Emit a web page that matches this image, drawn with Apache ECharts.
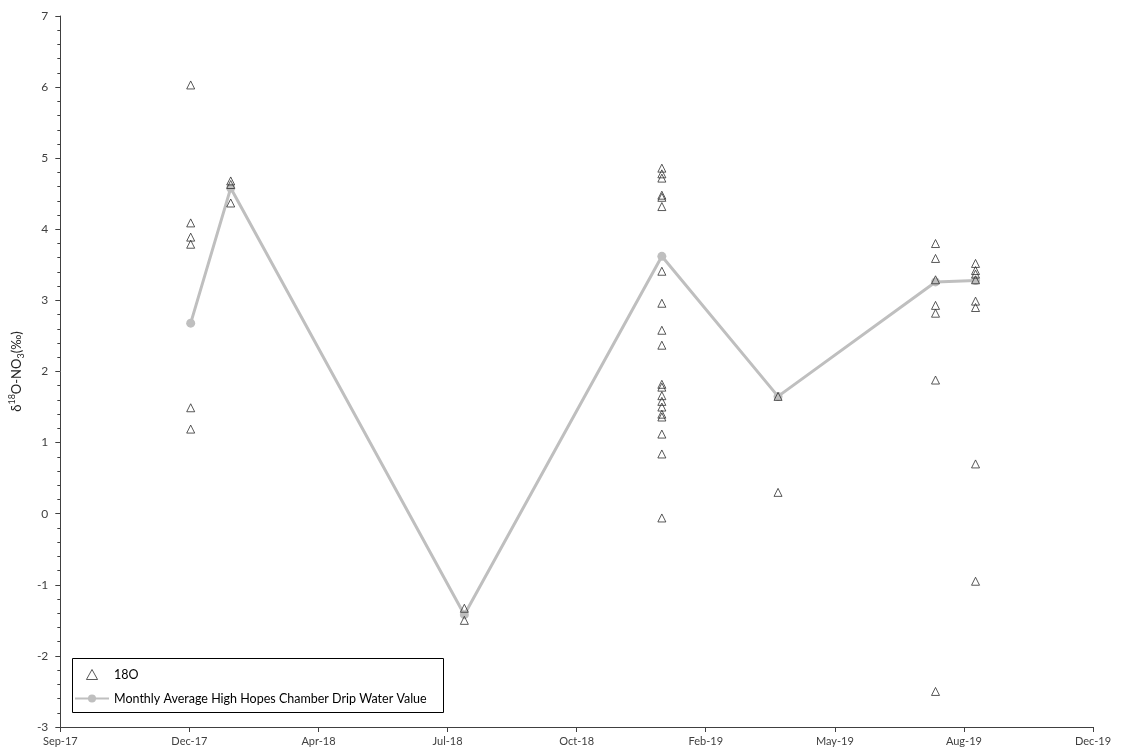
<!DOCTYPE html>
<html>
<head>
<meta charset="utf-8">
<script src="https://cdn.jsdelivr.net/npm/echarts@6/dist/echarts.min.js"></script>
<style>
  html, body { margin: 0; padding: 0; background: #fff; }
  #chart { width: 1123px; height: 755px; }
</style>
</head>
<body>
<div id="chart"></div>
<script>
// Sampling months (first of month) and individual δ18O-NO3 measurements (‰)
const sampleDates = ['2018-01-01', '2018-02-01', '2018-08-01', '2019-01-01', '2019-04-01', '2019-08-01', '2019-09-01'];
const samplesJan18 = [6.03, 4.09, 3.89, 3.79, 1.49, 1.19];
const samplesFeb18 = [4.68, 4.63, 4.37];
const samplesAug18 = [-1.33, -1.50];
const samplesJan19 = [4.86, 4.78, 4.72, 4.48, 4.45, 4.32, 3.41, 2.96, 2.58, 2.37,
                      1.82, 1.78, 1.66, 1.58, 1.50, 1.40, 1.36, 1.12, 0.84, -0.06];
const samplesApr19 = [1.65, 0.30];
const samplesAug19 = [3.80, 3.59, 3.29, 2.93, 2.82, 1.88, -2.50];
const samplesSep19 = [3.52, 3.42, 3.37, 3.29, 2.99, 2.90, 0.70, -0.95];
const sampleGroups = [samplesJan18, samplesFeb18, samplesAug18, samplesJan19, samplesApr19, samplesAug19, samplesSep19];

// Monthly average drip water value per sampling month
const monthlyAverage = [2.68, 4.58, -1.42, 3.62, 1.65, 3.26, 3.28];

// Date axis (spreadsheet day serials): start, end, tick step
const xStart = 43000, xEnd = 43800, xStep = 100;
const monthNames = ['Jan','Feb','Mar','Apr','May','Jun','Jul','Aug','Sep','Oct','Nov','Dec'];

const EPOCH = Date.UTC(1899, 11, 30);
function toSerial(iso) {
  const [y, m, d] = iso.split('-').map(Number);
  return Math.round((Date.UTC(y, m - 1, d) - EPOCH) / 86400000);
}
function serialLabel(v) {
  const dt = new Date(EPOCH + v * 86400000);
  return monthNames[dt.getUTCMonth()] + '-' + String(dt.getUTCFullYear() % 100).padStart(2, '0');
}

const scatterData = [];
sampleGroups.forEach((grp, i) => {
  const x = toSerial(sampleDates[i]);
  grp.forEach(v => scatterData.push([x, v]));
});
const avgData = monthlyAverage.map((v, i) => [toSerial(sampleDates[i]), v]);

const FONT = 'Lato, "Open Sans", sans-serif';
const AXIS_COLOR = '#404040';
const TRIANGLE = 'path://M5,0 L10,9 L0,9 Z';

const chart = echarts.init(document.getElementById('chart'), null, { renderer: 'canvas' });
chart.setOption({
  animation: false,
  backgroundColor: '#ffffff',
  grid: { left: 58, right: 30, top: 16, bottom: 28, containLabel: false },
  xAxis: {
    type: 'value',
    min: xStart, max: xEnd, interval: xStep,
    axisLine: { onZero: false, lineStyle: { color: AXIS_COLOR, width: 1 } },
    axisTick: { show: true, length: 5, lineStyle: { color: AXIS_COLOR } },
    axisLabel: { formatter: serialLabel, color: AXIS_COLOR, fontFamily: FONT, fontSize: 11, margin: 9 },
    splitLine: { show: false }
  },
  yAxis: {
    type: 'value',
    min: -3, max: 7, interval: 1,
    axisLine: { show: true, onZero: false, lineStyle: { color: AXIS_COLOR, width: 1 } },
    axisTick: { show: true, length: 5, lineStyle: { color: AXIS_COLOR } },
    minorTick: { show: true, splitNumber: 5, length: 3, lineStyle: { color: AXIS_COLOR } },
    axisLabel: { color: AXIS_COLOR, fontFamily: FONT, fontSize: 12, margin: 12 },
    splitLine: { show: false },
    name: '{t|δ}{sup|18}{t|O-NO}{sub|3}{t|(‰)}',
    nameLocation: 'middle',
    nameGap: 30,
    nameRotate: 90,
    nameTextStyle: {
      rich: {
        t: { fontFamily: FONT, fontSize: 13, color: '#262626', lineHeight: 18, verticalAlign: 'middle' },
        sup: { fontFamily: FONT, fontSize: 9, color: '#262626', lineHeight: 18, verticalAlign: 'top' },
        sub: { fontFamily: FONT, fontSize: 9, color: '#262626', lineHeight: 18, verticalAlign: 'bottom' }
      }
    }
  },
  graphic: [{
    type: 'rect',
    left: 72, top: 658,
    shape: { width: 371, height: 54 },
    style: { fill: '#ffffff', stroke: '#000000', lineWidth: 1 },
    z: 90
  }],
  legend: {
    orient: 'vertical',
    left: 74, top: 668,
    padding: 0,
    itemGap: 11,
    itemWidth: 34, itemHeight: 10,
    z: 100,
    textStyle: { fontFamily: FONT, fontSize: 12.5, color: '#000000' },
    data: [
      { name: '18O', icon: TRIANGLE,
        itemStyle: { color: 'rgba(255,255,255,0)', borderColor: '#303030', borderWidth: 1 } },
      { name: 'Monthly Average High Hopes Chamber Drip Water Value' }
    ]
  },
  series: [
    {
      name: 'Monthly Average High Hopes Chamber Drip Water Value',
      type: 'line',
      data: avgData,
      symbol: 'circle',
      symbolSize: 9,
      showAllSymbol: true,
      lineStyle: { color: '#BFBFBF', width: 3 },
      itemStyle: { color: '#BFBFBF' },
      z: 2
    },
    {
      name: '18O',
      type: 'scatter',
      data: scatterData,
      symbol: 'triangle',
      symbolSize: [8, 8],
      itemStyle: { color: 'rgba(255,255,255,0)', borderColor: '#303030', borderWidth: 1 },
      z: 3
    }
  ]
});
</script>
</body>
</html>
